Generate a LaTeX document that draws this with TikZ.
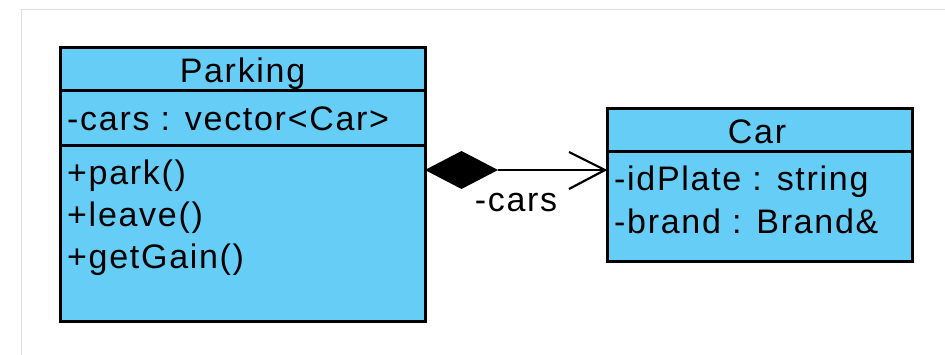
\documentclass[tikz,border=0pt]{standalone}
\usepackage{fontspec}
\setmainfont{Liberation Sans}[LetterSpace=5]
\definecolor{classfill}{RGB}{102,205,246}
\definecolor{framegray}{RGB}{220,220,220}
\tikzset{
  classbox/.style={draw=black, fill=classfill, line width=3pt, rectangle,
    inner sep=0pt, outer sep=0pt, anchor=north west},
  divider/.style={draw=black, line width=3pt},
  member/.style={anchor=base west, inner sep=0pt, font=\fontsize{34}{40}\selectfont},
  title/.style={anchor=base, inner sep=0pt, font=\fontsize{34}{40}\selectfont},
  assoc/.style={draw=black, line width=2.2pt},
}
\begin{document}
\begin{tikzpicture}[x=1pt,y=-1pt]
\useasboundingbox (0,0) rectangle (945,355);
% page frame
\draw[framegray, line width=1.5pt] (21.5,355) -- (21.5,9.5) -- (945,9.5);

% class Parking
\node[classbox, minimum width=365pt, minimum height=274pt] (parking) at (60,48) {};
\coordinate (pk1) at (60,91);
\coordinate (pk2) at (60,146);
\draw[divider] (pk1) -- (pk1 -| parking.east);
\draw[divider] (pk2) -- (pk2 -| parking.east);
\node[title] (pkname) at (242.5,82.5) {Parking};
\node[member] (pkattr) at (67,131) {-cars : vector<Car>};
\node[member] (pkop1) at (67,185) {+park()};
\node[member] (pkop2) at (67,227) {+leave()};
\node[member] (pkop3) at (67,269) {+getGain()};

% class Car
\node[classbox, minimum width=305pt, minimum height=153pt] (car) at (607,109) {};
\coordinate (cr1) at (607,152);
\draw[divider] (cr1) -- (cr1 -| car.east);
\node[title] (crname) at (757,143.5) {Car};
\node[member] (crattr1) at (614,191) {-idPlate : string};
\node[member] (crattr2) at (614,234) {-brand : Brand\&};

% composition Parking -> Car
\coordinate (src) at (parking.east |- 0,170);
\coordinate (dst) at ([xshift=-2pt]car.west |- 0,170);
\coordinate (dend) at ([xshift=73pt]src);
\fill[black] (src) -- ([shift={(36.5,-19)}]src) -- (dend) -- ([shift={(36.5,19)}]src) -- cycle;
\draw[assoc] (dend) -- (dst);
\draw[assoc, line join=miter] ([shift={(-36,-18)}]dst) -- (dst) -- ([shift={(-36,19)}]dst);
\node[title] (role) at (516,211.5) {-cars};
\end{tikzpicture}
\end{document}
